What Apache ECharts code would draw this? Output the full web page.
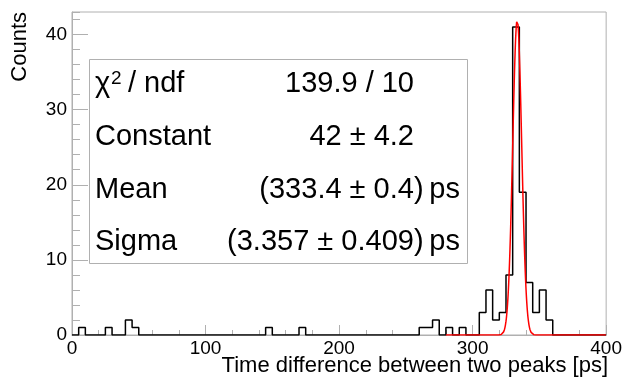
<!DOCTYPE html>
<html>
<head>
<meta charset="utf-8">
<script src="https://cdn.jsdelivr.net/npm/echarts@6/dist/echarts.min.js"></script>
<style>
html,body{margin:0;padding:0;background:#fff;}
#chart{width:625px;height:378px;}
</style>
</head>
<body>
<div id="chart"></div>
<script>
// ---- data ----
var binStart = 0;
var binWidth = 5;
var counts = [
  0,1,0,0,0,1,0,0,2,1,      // 0-50
  0,0,0,0,0,0,0,0,0,0,      // 50-100
  0,0,0,0,0,0,0,0,0,1,      // 100-150
  0,0,0,0,1,0,0,0,0,0,      // 150-200
  0,0,0,0,0,0,0,0,0,0,      // 200-250
  0,0,1,1,2,0,1,0,1,0,      // 250-300
  0,3,6,2,3,8,41,19,7,3,    // 300-350
  6,2,0,0,0,0,0,0,0,0       // 350-400
];
var fitConstant = 42;
var fitMean = 333.4;
var fitSigma = 3.357;
var fitRange = [280, 400];
var xTicks = [0, 100, 200, 300, 400];
var yTicks = [0, 10, 20, 30, 40];
var statNames = ['\u03c7', 'Constant', 'Mean', 'Sigma'];
var statValues = ['139.9 / 10', '42 \u00b1 4.2', '(333.4 \u00b1 0.4)\u2009ps', '(3.357 \u00b1 0.409)\u2009ps'];
var chiSup = '2';
var chiRest = '/ ndf';
var xTitle = 'Time difference between two peaks [ps]';
var yTitle = 'Counts';

// ---- build series ----
var histPts = [];
for (var i = 0; i < counts.length; i++) {
  histPts.push([binStart + i * binWidth, counts[i]]);
}
histPts.push([binStart + counts.length * binWidth, counts[counts.length - 1]]);
histPts.unshift([binStart, 0]);
histPts.push([binStart + counts.length * binWidth, 0]);

var fitPts = [];
for (var x = fitRange[0]; x <= fitRange[1] + 1e-9; x += 0.2) {
  var z = (x - fitMean) / fitSigma;
  fitPts.push([x, fitConstant * Math.exp(-0.5 * z * z)]);
}

var FONT = '"Liberation Sans", Arial, Helvetica, sans-serif';
var GRAY = '#b0b0b0';
var chart = echarts.init(document.getElementById('chart'), null, {renderer: 'canvas'});

var statsGraphics = [{
  type: 'rect', z: 50,
  shape: {x: 89.5, y: 59.5, width: 378, height: 204},
  style: {fill: '#fff', stroke: GRAY, lineWidth: 1}
}];
var rowY = [84, 137, 190, 242];
for (var r = 0; r < 4; r++) {
  statsGraphics.push({
    type: 'text', z: 51, x: 95, y: rowY[r],
    style: {text: statNames[r], font: '29px ' + FONT, fill: '#000', align: 'left', verticalAlign: 'middle'}
  });
  statsGraphics.push({
    type: 'text', z: 51, x: r < 2 ? 414 : 460, y: rowY[r],
    style: {text: statValues[r], font: '29px ' + FONT, fill: '#000', align: 'right', verticalAlign: 'middle'}
  });
}
statsGraphics.push({
  type: 'text', z: 51, x: 111, y: 79,
  style: {text: chiSup, font: '19px ' + FONT, fill: '#000', align: 'left', verticalAlign: 'middle'}
});
statsGraphics.push({
  type: 'text', z: 51, x: 128, y: rowY[0],
  style: {text: chiRest, font: '29px ' + FONT, fill: '#000', align: 'left', verticalAlign: 'middle'}
});
statsGraphics.push({
  type: 'text', z: 51, x: 608, y: 366,
  style: {text: xTitle, font: '22px ' + FONT, fill: '#000', align: 'right', verticalAlign: 'middle'}
});
statsGraphics.push({
  type: 'text', z: 51, x: 20, y: 12, rotation: Math.PI / 2,
  style: {text: yTitle, font: '22px ' + FONT, fill: '#000', align: 'right', verticalAlign: 'middle'}
});

chart.setOption({
  animation: false,
  backgroundColor: '#fff',
  grid: {left: 72, right: 17, top: 12, bottom: 43, show: true, borderColor: GRAY, borderWidth: 1, backgroundColor: 'transparent'},
  xAxis: {
    type: 'value', min: 0, max: 400, interval: 100,
    axisLine: {show: true, lineStyle: {color: GRAY, width: 1}},
    axisTick: {show: true, inside: true, length: 10, lineStyle: {color: GRAY}},
    minorTick: {show: true, splitNumber: 5, length: 5, lineStyle: {color: GRAY}},
    splitLine: {show: false},
    axisLabel: {show: true, margin: 4, fontSize: 19, fontFamily: FONT, color: '#000',
      formatter: function (v) { return xTicks.indexOf(v) >= 0 ? String(v) : ''; }}
  },
  yAxis: [{
    type: 'value', min: 0, max: 43, interval: 10,
    axisLine: {show: true, lineStyle: {color: GRAY, width: 1}},
    axisTick: {show: true, inside: true, length: 16, lineStyle: {color: GRAY}},
    splitLine: {show: false},
    axisLabel: {show: true, margin: 5, fontSize: 19, fontFamily: FONT, color: '#000', showMaxLabel: false,
      formatter: function (v) { return yTicks.indexOf(v) >= 0 ? String(v) : ''; }}
  }, {
    type: 'value', min: 0, max: 43, interval: 2, position: 'left',
    axisLine: {show: false},
    axisTick: {show: true, inside: true, length: 8, lineStyle: {color: GRAY}},
    splitLine: {show: false},
    axisLabel: {show: false}
  }],
  series: [{
    type: 'line', data: histPts, step: 'end', symbol: 'none', z: 5,
    lineStyle: {color: '#000', width: 1.5}
  }, {
    type: 'line', data: fitPts, symbol: 'none', z: 6, smooth: false,
    lineStyle: {color: '#ff0000', width: 1.5}
  }],
  graphic: statsGraphics
});
</script>
</body>
</html>
